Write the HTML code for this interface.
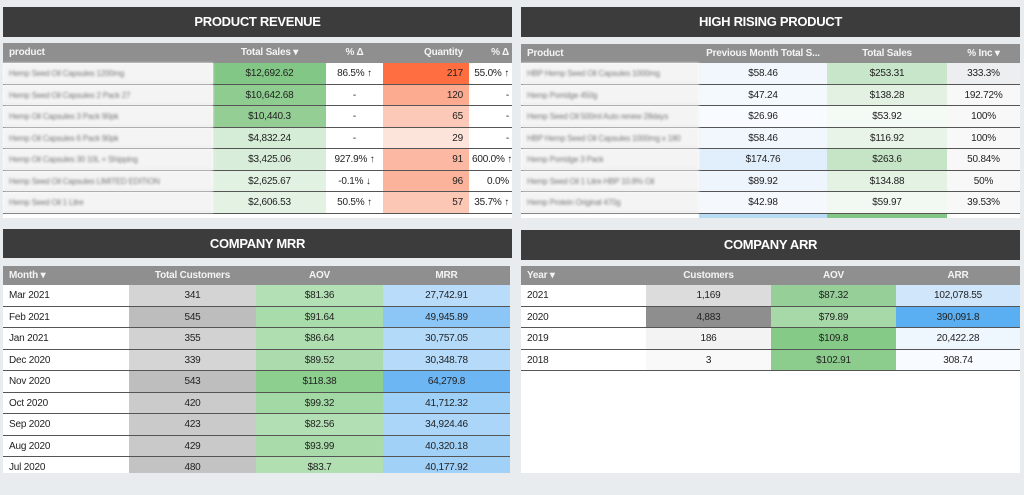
<!DOCTYPE html>
<html><head><meta charset="utf-8"><style>
*{box-sizing:border-box;margin:0;padding:0}
body{width:1024px;height:495px;background:#e9ecef;font-family:"Liberation Sans",sans-serif;position:relative;overflow:hidden;color:#222;letter-spacing:-0.2px}
.title{position:absolute;background:#3c3c3c;color:#fff;font-weight:bold;font-size:13px;text-align:center;line-height:30px;height:30px;letter-spacing:-0.3px}
.panel{position:absolute;background:#fff}
.hdr{display:flex;height:20px;background:#8f8f8f;color:#f4f4f4;font-weight:bold;font-size:10px;line-height:20px}
.row{display:flex;height:21.5px;font-size:10px;line-height:21px;border-bottom:1px solid #555}
.row>div,.hdr>div{flex:none;overflow:hidden;white-space:nowrap;padding:0 6px}
.c{text-align:center}.r{text-align:right}
.blur{color:#777;filter:blur(1.4px);border-bottom:1px solid #ddd;background:#f4f4f4;font-size:8px}
.t>div:last-child{padding:0 3px}
</style></head><body>

<div class="title" style="left:3px;top:7px;width:509px">PRODUCT REVENUE</div>
<div class="panel" style="left:3px;top:43px;width:509px;height:175px">
<div class="hdr t"><div style="width:210px">product</div><div class="c" style="width:113px">Total Sales ▾</div><div class="c" style="width:57px">% Δ</div><div class="r" style="width:86px">Quantity</div><div class="r" style="width:43px">% Δ</div></div>
<div class="row t"><div class="blur" style="width:210px">Hemp Seed Oil Capsules 1200mg</div><div class="c" style="width:113px;background:#82c785">$12,692.62</div><div class="c" style="width:57px">86.5% ↑</div><div class="r" style="width:86px;background:#ff6e40">217</div><div class="r" style="width:43px">55.0% ↑</div></div>
<div class="row t"><div class="blur" style="width:210px">Hemp Seed Oil Capsules 2 Pack 27</div><div class="c" style="width:113px;background:#8fcc90">$10,642.68</div><div class="c" style="width:57px">-</div><div class="r" style="width:86px;background:#fcab91">120</div><div class="r" style="width:43px">-</div></div>
<div class="row t"><div class="blur" style="width:210px">Hemp Oil Capsules 3 Pack 90pk</div><div class="c" style="width:113px;background:#94ce95">$10,440.3</div><div class="c" style="width:57px">-</div><div class="r" style="width:86px;background:#fcc8b7">65</div><div class="r" style="width:43px">-</div></div>
<div class="row t"><div class="blur" style="width:210px">Hemp Oil Capsules 6 Pack 90pk</div><div class="c" style="width:113px;background:#d5ecd6">$4,832.24</div><div class="c" style="width:57px">-</div><div class="r" style="width:86px;background:#fde4db">29</div><div class="r" style="width:43px">-</div></div>
<div class="row t"><div class="blur" style="width:210px">Hemp Oil Capsules 30 10L + Shipping</div><div class="c" style="width:113px;background:#d9eeda">$3,425.06</div><div class="c" style="width:57px">927.9% ↑</div><div class="r" style="width:86px;background:#fcb8a2">91</div><div class="r" style="width:43px">600.0% ↑</div></div>
<div class="row t"><div class="blur" style="width:210px">Hemp Seed Oil Capsules LIMITED EDITION</div><div class="c" style="width:113px;background:#e2f2e2">$2,625.67</div><div class="c" style="width:57px">-0.1% ↓</div><div class="r" style="width:86px;background:#fcb39b">96</div><div class="r" style="width:43px">0.0%</div></div>
<div class="row t"><div class="blur" style="width:210px">Hemp Seed Oil 1 Litre</div><div class="c" style="width:113px;background:#e3f2e3">$2,606.53</div><div class="c" style="width:57px">50.5% ↑</div><div class="r" style="width:86px;background:#fdc7b6">57</div><div class="r" style="width:43px">35.7% ↑</div></div>
</div>

<div class="title" style="left:521px;top:7px;width:499px">HIGH RISING PRODUCT</div>
<div class="panel" style="left:521px;top:44px;width:499px;height:174px">
<div class="hdr" style="height:19px;line-height:19px"><div style="width:178px">Product</div><div class="c" style="width:128px">Previous Month Total S...</div><div class="c" style="width:120px">Total Sales</div><div class="c" style="width:73px">% Inc ▾</div></div>
<div class="row"><div class="blur" style="width:178px">HBP Hemp Seed Oil Capsules 1000mg</div><div class="c" style="width:128px;background:#f1f7fd">$58.46</div><div class="c" style="width:120px;background:#c8e6c9">$253.31</div><div class="c" style="width:73px;background:#eceef0">333.3%</div></div>
<div class="row"><div class="blur" style="width:178px">Hemp Porridge 450g</div><div class="c" style="width:128px;background:#f4f9fe">$47.24</div><div class="c" style="width:120px;background:#e3f1e3">$138.28</div><div class="c" style="width:73px;background:#f8f8f8">192.72%</div></div>
<div class="row"><div class="blur" style="width:178px">Hemp Seed Oil 500ml Auto renew 28days</div><div class="c" style="width:128px;background:#f8fbff">$26.96</div><div class="c" style="width:120px;background:#f4faf4">$53.92</div><div class="c" style="width:73px;background:#f8f8f8">100%</div></div>
<div class="row"><div class="blur" style="width:178px">HBP Hemp Seed Oil Capsules 1000mg x 180</div><div class="c" style="width:128px;background:#f1f7fd">$58.46</div><div class="c" style="width:120px;background:#e8f4e8">$116.92</div><div class="c" style="width:73px;background:#f8f8f8">100%</div></div>
<div class="row"><div class="blur" style="width:178px">Hemp Porridge 3 Pack</div><div class="c" style="width:128px;background:#e1eefb">$174.76</div><div class="c" style="width:120px;background:#c6e5c7">$263.6</div><div class="c" style="width:73px;background:#f8f8f8">50.84%</div></div>
<div class="row"><div class="blur" style="width:178px">Hemp Seed Oil 1 Litre HBP 10.8% Oil</div><div class="c" style="width:128px;background:#eef5fd">$89.92</div><div class="c" style="width:120px;background:#e4f2e4">$134.88</div><div class="c" style="width:73px;background:#f8f8f8">50%</div></div>
<div class="row"><div class="blur" style="width:178px">Hemp Protein Original 470g</div><div class="c" style="width:128px;background:#f5f9fe">$42.98</div><div class="c" style="width:120px;background:#f2f9f2">$59.97</div><div class="c" style="width:73px;background:#f8f8f8">39.53%</div></div>
<div style="display:flex;height:4px"><div style="width:178px"></div><div style="width:128px;background:#b9dcf6"></div><div style="width:120px;background:#82c785"></div></div>
</div>

<div class="title" style="left:3px;top:229px;width:509px;height:29px;line-height:29px">COMPANY MRR</div>
<div class="panel" style="left:3px;top:266px;width:507px;height:207px;overflow:hidden">
<div class="hdr" style="height:19px;line-height:19px"><div style="width:126px">Month ▾</div><div class="c" style="width:127px">Total Customers</div><div class="c" style="width:127px">AOV</div><div class="c" style="width:127px">MRR</div></div>
<div class="row"><div style="width:126px">Mar 2021</div><div class="c" style="width:127px;background:#d4d4d4">341</div><div class="c" style="width:127px;background:#b3e0b5">$81.36</div><div class="c" style="width:127px;background:#b9dcfb">27,742.91</div></div>
<div class="row"><div style="width:126px">Feb 2021</div><div class="c" style="width:127px;background:#bdbdbd">545</div><div class="c" style="width:127px;background:#a9dcab">$91.64</div><div class="c" style="width:127px;background:#8cc6f7">49,945.89</div></div>
<div class="row"><div style="width:126px">Jan 2021</div><div class="c" style="width:127px;background:#d2d2d2">355</div><div class="c" style="width:127px;background:#afdeb0">$86.64</div><div class="c" style="width:127px;background:#b4dafa">30,757.05</div></div>
<div class="row"><div style="width:126px">Dec 2020</div><div class="c" style="width:127px;background:#d5d5d5">339</div><div class="c" style="width:127px;background:#acdcad">$89.52</div><div class="c" style="width:127px;background:#b5dafa">30,348.78</div></div>
<div class="row"><div style="width:126px">Nov 2020</div><div class="c" style="width:127px;background:#bebebe">543</div><div class="c" style="width:127px;background:#8ccf8e">$118.38</div><div class="c" style="width:127px;background:#6db6f4">64,279.8</div></div>
<div class="row"><div style="width:126px">Oct 2020</div><div class="c" style="width:127px;background:#cbcbcb">420</div><div class="c" style="width:127px;background:#a3d9a4">$99.32</div><div class="c" style="width:127px;background:#9fd0f8">41,712.32</div></div>
<div class="row"><div style="width:126px">Sep 2020</div><div class="c" style="width:127px;background:#cacaca">423</div><div class="c" style="width:127px;background:#b2dfb3">$82.56</div><div class="c" style="width:127px;background:#abd5f9">34,924.46</div></div>
<div class="row"><div style="width:126px">Aug 2020</div><div class="c" style="width:127px;background:#c9c9c9">429</div><div class="c" style="width:127px;background:#a8dba9">$93.99</div><div class="c" style="width:127px;background:#a2d1f8">40,320.18</div></div>
<div class="row" style="border:none"><div style="width:126px">Jul 2020</div><div class="c" style="width:127px;background:#c3c3c3">480</div><div class="c" style="width:127px;background:#b1dfb2">$83.7</div><div class="c" style="width:127px;background:#a2d1f8">40,177.92</div></div>
</div>

<div class="title" style="left:521px;top:230px;width:499px">COMPANY ARR</div>
<div class="panel" style="left:521px;top:266px;width:499px;height:207px">
<div class="hdr" style="height:19px;line-height:19px"><div style="width:125px">Year ▾</div><div class="c" style="width:125px">Customers</div><div class="c" style="width:125px">AOV</div><div class="c" style="width:124px">ARR</div></div>
<div class="row"><div style="width:125px">2021</div><div class="c" style="width:125px;background:#dcdcdc">1,169</div><div class="c" style="width:125px;background:#96d098">$87.32</div><div class="c" style="width:124px;background:#cfe6fb">102,078.55</div></div>
<div class="row"><div style="width:125px">2020</div><div class="c" style="width:125px;background:#8e8e8e">4,883</div><div class="c" style="width:125px;background:#a7d9a8">$79.89</div><div class="c" style="width:124px;background:#5aaef2">390,091.8</div></div>
<div class="row"><div style="width:125px">2019</div><div class="c" style="width:125px;background:#f3f3f3">186</div><div class="c" style="width:125px;background:#86ca88">$109.8</div><div class="c" style="width:124px;background:#eef6fe">20,422.28</div></div>
<div class="row"><div style="width:125px">2018</div><div class="c" style="width:125px;background:#f9f9f9">3</div><div class="c" style="width:125px;background:#8ccd8e">$102.91</div><div class="c" style="width:124px;background:#f8fbff">308.74</div></div>
</div>
</body></html>
